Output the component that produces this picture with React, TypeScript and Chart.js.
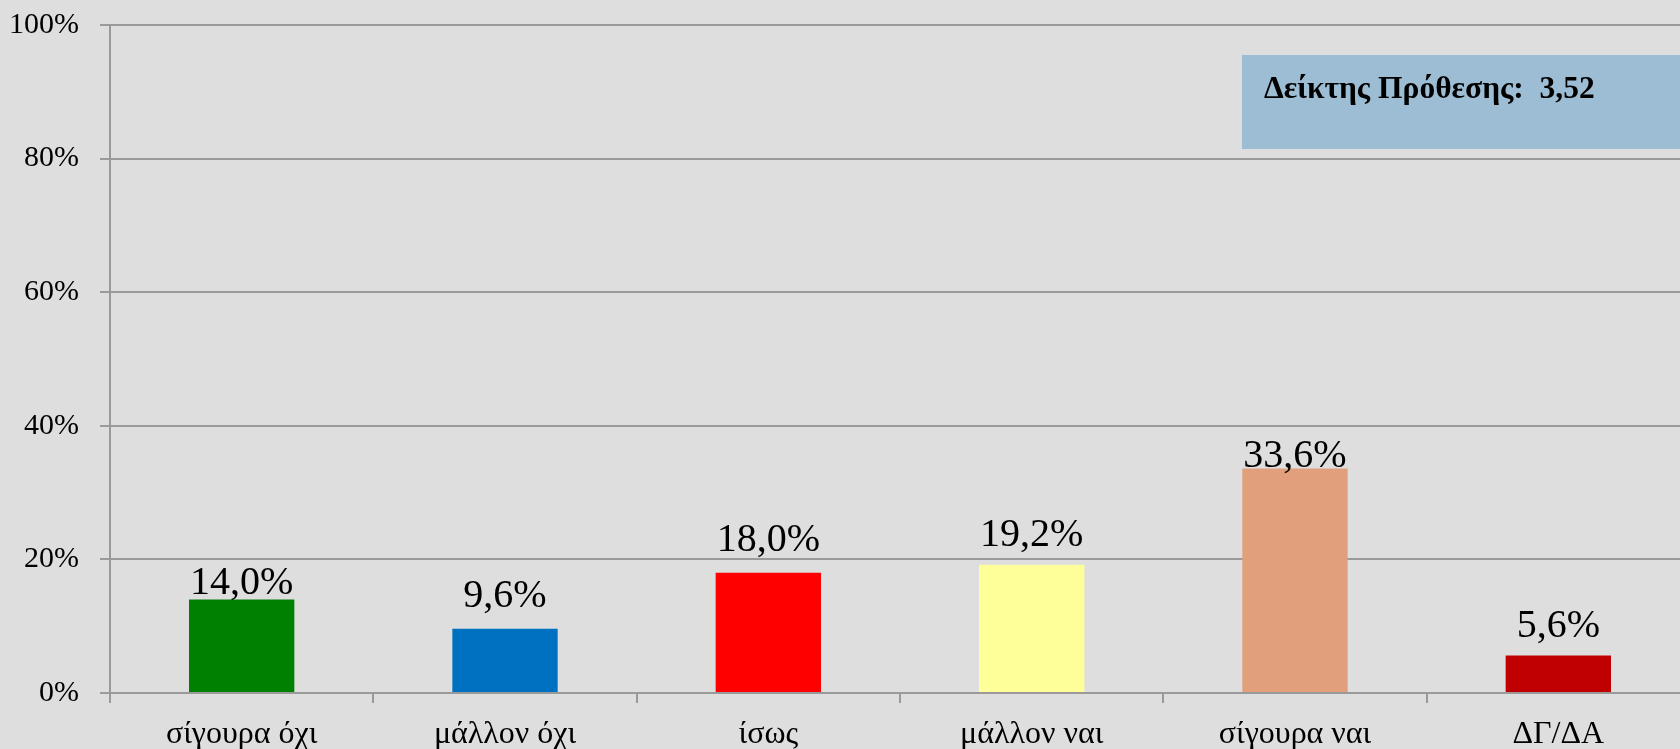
import React, { useEffect, useRef } from "react";
import { Chart, registerables } from "chart.js";

Chart.register(...registerables);

const categories = ["σίγουρα όχι", "μάλλον όχι", "ίσως", "μάλλον ναι", "σίγουρα ναι", "ΔΓ/ΔΑ"];
const values = [14.0, 9.6, 18.0, 19.2, 33.6, 5.6];
const barColors = ["#008000", "#0070c0", "#ff0000", "#ffff99", "#e1a07b", "#c00000"];
const yTicks = [0, 20, 40, 60, 80, 100];
const indexLabel = "Δείκτης Πρόθεσης:  3,52";

const SERIF = "'Times New Roman', 'Liberation Serif', serif";
const GRID = "#9a9a9a";

export default function App() {
  const ref = useRef<HTMLCanvasElement | null>(null);

  useEffect(() => {
    if (!ref.current) return;
    const labelGaps = [5, 22, 22, 19, 2, 19];

    const valueLabels = {
      id: "valueLabels",
      afterDatasetsDraw(chart: any) {
        const ctx = chart.ctx;
        const meta = chart.getDatasetMeta(0);
        ctx.save();
        ctx.font = `40px ${SERIF}`;
        ctx.fillStyle = "#000";
        ctx.textAlign = "center";
        ctx.textBaseline = "alphabetic";
        meta.data.forEach((bar: any, i: number) => {
          const v = values[i];
          const txt = v.toFixed(1).replace(".", ",") + "%";
          ctx.fillText(txt, bar.x, bar.y - labelGaps[i]);
        });
        ctx.restore();
      },
    };

    const indexBox = {
      id: "indexBox",
      afterDraw(chart: any) {
        const ctx = chart.ctx;
        const ca = chart.chartArea;
        const x = ca.left + 1132;
        const y = ca.top + 30;
        ctx.save();
        ctx.fillStyle = "#9dbdd4";
        ctx.fillRect(x, y, chart.width - x, 94);
        ctx.font = `bold 31.5px ${SERIF}`;
        ctx.fillStyle = "#000";
        ctx.textAlign = "left";
        ctx.textBaseline = "alphabetic";
        ctx.fillText(indexLabel, x + 22, y + 43);
        ctx.restore();
      },
    };

    const chart = new Chart(ref.current, {
      type: "bar",
      data: {
        labels: categories,
        datasets: [
          {
            data: values,
            backgroundColor: barColors,
            borderWidth: 0,
            categoryPercentage: 1,
            barPercentage: 0.4,
          },
        ],
      },
      options: {
        animation: false,
        responsive: false,
        maintainAspectRatio: false,
        layout: { padding: { top: 25, right: 10, left: 0, bottom: 0 } },
        plugins: {
          legend: { display: false },
          tooltip: { enabled: false },
        },
        scales: {
          x: {
            grid: {
              display: true,
              drawOnChartArea: false,
              drawTicks: true,
              tickLength: 10,
              color: GRID,
              lineWidth: 2,
            },
            border: { display: true, color: GRID, width: 2 },
            ticks: {
              color: "#000",
              font: { family: SERIF, size: 32 },
              padding: 12,
              maxRotation: 0,
              autoSkip: false,
            },
            afterFit(scale: any) {
              scale.height = 67;
              scale.paddingLeft = 0;
              scale.paddingRight = 0;
            },
          },
          y: {
            min: 0,
            max: 100,
            afterBuildTicks(scale: any) {
              scale.ticks = yTicks.map((v) => ({ value: v }));
            },
            grid: {
              color: GRID,
              lineWidth: 2,
              tickLength: 10,
            },
            border: { display: true, color: GRID, width: 2 },
            ticks: {
              color: "#000",
              font: { family: SERIF, size: 30 },
              padding: 21,
              callback: (v: any) => `${v}%`,
            },
            afterFit(scale: any) {
              scale.width = 110;
              scale.paddingTop = 0;
              scale.paddingBottom = 0;
            },
          },
        },
      },
      plugins: [valueLabels, indexBox],
    });

    return () => chart.destroy();
  }, []);

  return (
    <div
      style={{
        position: "fixed",
        left: 0,
        top: 0,
        width: 1680,
        height: 749,
        overflow: "hidden",
        background: "#dedede",
      }}
    >
      <canvas ref={ref} width={1700} height={760} style={{ display: "block" }} />
    </div>
  );
}
